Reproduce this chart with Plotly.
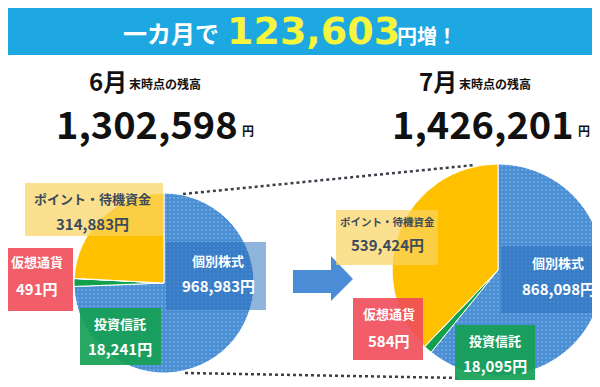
import plotly.graph_objects as go

# ---------------- data ----------------
categories = ["個別株式", "投資信託", "仮想通貨", "ポイント・待機資金"]
june_values = [968983, 18241, 491, 314883]
july_values = [868098, 18095, 584, 539424]
months = ["6月", "7月"]
subtitle = "末時点の残高"
yen = "円"
headline_prefix = "一カ月で"
headline_suffix = "円増！"

W, H = 600, 387
FONT = "Noto Sans CJK JP"
NUMFONT = "DejaVu Sans"


def px(x):
    return x / W


def py(y):
    return 1 - y / H


slice_colors = ["#4A8ED4", "#13A14D", "#F04A55", "#FFC000"]

fig = go.Figure()


def add_pie(values, cx, cy, r):
    fig.add_trace(go.Pie(
        values=values, labels=categories, sort=False, direction="clockwise",
        rotation=0, textinfo="none", hoverinfo="skip", showlegend=False,
        marker=dict(colors=slice_colors, line=dict(color="white", width=1),
                    pattern=dict(shape=[".", "", "", ""], fgcolor="#9CC4EE",
                                 bgcolor=slice_colors, fillmode="replace",
                                 size=4, solidity=0.1)),
        domain=dict(x=[px(cx - r), px(cx + r)], y=[py(cy + r), py(cy - r)]),
    ))


add_pie(june_values, 156, 275, 90)
add_pie(july_values, 490, 262, 106)

shapes = []
# banner
shapes.append(dict(type="rect", xref="paper", yref="paper", x0=0, x1=1,
                   y0=py(47), y1=1, fillcolor="#1DA8E2", line_width=0, layer="below"))


def rect(x0, y0, x1, y1, color):
    shapes.append(dict(type="rect", xref="paper", yref="paper", x0=px(x0), x1=px(x1),
                       y0=py(y1), y1=py(y0), fillcolor=color, line_width=0, layer="above"))


# dotted connector lines
for (x0, y0, x1, y1) in [(175, 186, 467, 157), (177, 365, 453, 370)]:
    shapes.append(dict(type="line", xref="paper", yref="paper", x0=px(x0), y0=py(y0),
                       x1=px(x1), y1=py(y1), line=dict(color="#3A3F48", width=2.5, dash="dot"),
                       layer="above"))

# arrow
pts = [(285, 262), (323, 262), (323, 248), (345, 271), (323, 293), (323, 285), (285, 285)]
path = "M " + " L ".join(f"{px(x):.5f},{py(y):.5f}" for x, y in pts) + " Z"
shapes.append(dict(type="path", xref="paper", yref="paper", path=path,
                   fillcolor="#4A8CD6", line_width=0, layer="above"))

YEL = "rgba(250,212,95,0.7)"
RED = "rgba(240,75,88,0.9)"
BLU = "rgba(35,105,185,0.5)"
GRN = "rgba(22,160,85,0.92)"

# left boxes
rect(17, 175, 155, 228, YEL)
rect(0, 240, 65, 303, RED)
rect(158, 234, 258, 302, BLU)
rect(72, 300, 153, 357, GRN)
# right boxes
rect(328, 202, 430, 257, YEL)
rect(493, 238, 600, 305, BLU)
rect(345, 290, 415, 352, RED)
rect(447, 317, 527, 372, GRN)

annotations = []


def text(x, y, s, size, color, xanchor="center", yanchor="middle", bold=True, family=FONT):
    annotations.append(dict(xref="paper", yref="paper", x=px(x), y=py(y), text=(f"<b>{s}</b>" if bold else s),
                            showarrow=False, xanchor=xanchor, yanchor=yanchor,
                            font=dict(family=family, size=size, color=color)))


def yen_fmt(v):
    return f"{v:,}{yen}"


DARK = "#3D4B5C"
WHITE = "#FFFFFF"

# banner
increase = sum(july_values) - sum(june_values)
text(213, 25, headline_prefix, 24, WHITE, xanchor="right")
text(305, 23, f"{increase:,}", 38, "#F4F53C", family=NUMFONT)
text(387, 27, headline_suffix, 20, WHITE, xanchor="left")

# headings
for cx_m, cx_num, total, m in [(100, 139, sum(june_values), months[0]),
                               (430, 475, sum(july_values), months[1])]:
    text(cx_m, 72, m, 24, "#111111", xanchor="center")
    text(cx_m + 19, 76, subtitle, 12, "#111111", xanchor="left")
    text(cx_num, 114, f"{total:,}", 38, "#111111")
    text(cx_num + 93, 122, yen, 12, "#111111", xanchor="left")

# labels
lp = dict(zip(categories, june_values))
rp = dict(zip(categories, july_values))

text(84, 190, categories[3], 13, DARK)
text(84, 215, yen_fmt(lp[categories[3]]), 15, DARK)
text(29, 253, categories[2], 13, WHITE)
text(29, 280, yen_fmt(lp[categories[2]]), 15, WHITE)
text(210, 252, categories[0], 13, WHITE)
text(210, 277, yen_fmt(lp[categories[0]]), 15, WHITE)
text(112, 315, categories[1], 13, WHITE)
text(112, 340, yen_fmt(lp[categories[1]]), 15, WHITE)

text(379, 213, categories[3], 10.5, DARK)
text(379, 236, yen_fmt(rp[categories[3]]), 15, DARK)
text(550, 255, categories[0], 13, WHITE)
text(550, 280, yen_fmt(rp[categories[0]]), 15, WHITE)
text(381, 305, categories[2], 13, WHITE)
text(381, 332, yen_fmt(rp[categories[2]]), 15, WHITE)
text(487, 332, categories[1], 13, WHITE)
text(487, 357, yen_fmt(rp[categories[1]]), 15, WHITE)

fig.update_layout(width=W, height=H, margin=dict(l=0, r=0, t=0, b=0),
                  paper_bgcolor="white", plot_bgcolor="white",
                  shapes=shapes, annotations=annotations,
                  font=dict(family=FONT))

fig.write_html("out.html")
